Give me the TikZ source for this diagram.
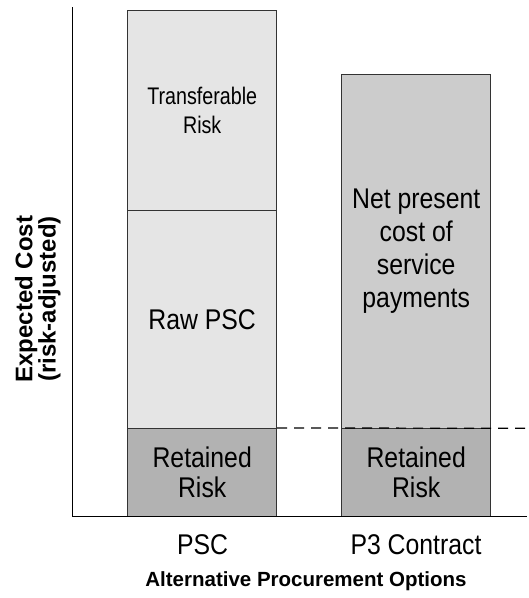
\documentclass[tikz,border=0pt]{standalone}
\usepackage{fontspec}
\setmainfont{Liberation Sans}
\newfontfamily\narrowfont{Liberation Sans}[FakeStretch=0.87]
\newfontfamily\narrowerfont{Liberation Sans}[FakeStretch=0.82]

\definecolor{psclight}{gray}{0.9}
\definecolor{ptfill}{gray}{0.8}
\definecolor{retfill}{gray}{0.7}
\definecolor{barline}{gray}{0.2}

\begin{document}
\begin{tikzpicture}[x=1pt,y=-1pt,
  seg/.style={draw=barline, line width=0.8pt, inner sep=0pt,
    minimum width=149pt, align=center, text=black,
    font=\narrowfont\fontsize{28.5}{30.5}\selectfont},
  catlabel/.style={anchor=base, inner sep=0pt,
    font=\narrowfont\fontsize{28.5}{30.5}\selectfont},
  axistitle/.style={inner sep=0pt, align=center,
    font=\bfseries\fontsize{24}{20.5}\selectfont},
  axisline/.style={line width=1.4pt, line cap=rect},
  levelline/.style={line width=1.2pt, dash pattern=on 10pt off 7pt}]

\useasboundingbox (0,0) rectangle (529,598);

% PSC bar: retained risk, raw PSC, transferable risk
\node[seg, fill=retfill, minimum height=88.4pt] (pscret) at (202.2,472.5) {Retained\\Risk};
\node[seg, fill=psclight, minimum height=217.6pt] (raw) at (202.2,319.5) {Raw PSC};
\node[seg, fill=psclight, minimum height=200pt,
  font=\narrowerfont\fontsize{24}{29}\selectfont] (trans) at (202.2,110.7) {Transferable\\Risk};

% P3 contract bar: retained risk and service payments
\node[seg, fill=retfill, minimum height=88.4pt] (ptret) at (416.2,472.5) {Retained\\Risk};
\node[seg, fill=ptfill, minimum height=354pt,
  font=\narrowfont\fontsize{28.5}{33}\selectfont] (npc) at (416.2,251.3)
  {Net present\\cost of\\service\\payments};

% level of the retained risk, carried across
\coordinate (levelend) at (529,428.3);
\draw[levelline] (pscret.north east) -- (levelend);

% axes
\coordinate (ytop) at (72.3,7.3);
\coordinate (origin) at (72.3,516.7);
\coordinate (xend) at (526.7,516.7);
\draw[axisline] (ytop) -- (origin) -- (xend);

% category labels and axis titles
\node[catlabel] (psclabel) at (202.5,554) {PSC};
\node[catlabel] (ptlabel) at (416,554) {P3 Contract};
\node[axistitle, anchor=base, font=\bfseries\fontsize{20.5}{24}\selectfont]
  (xtitle) at (306,586) {Alternative Procurement Options};
\node[axistitle, rotate=90] (ytitle) at (37.8,299) {Expected Cost\\(risk-adjusted)};

\end{tikzpicture}
\end{document}
